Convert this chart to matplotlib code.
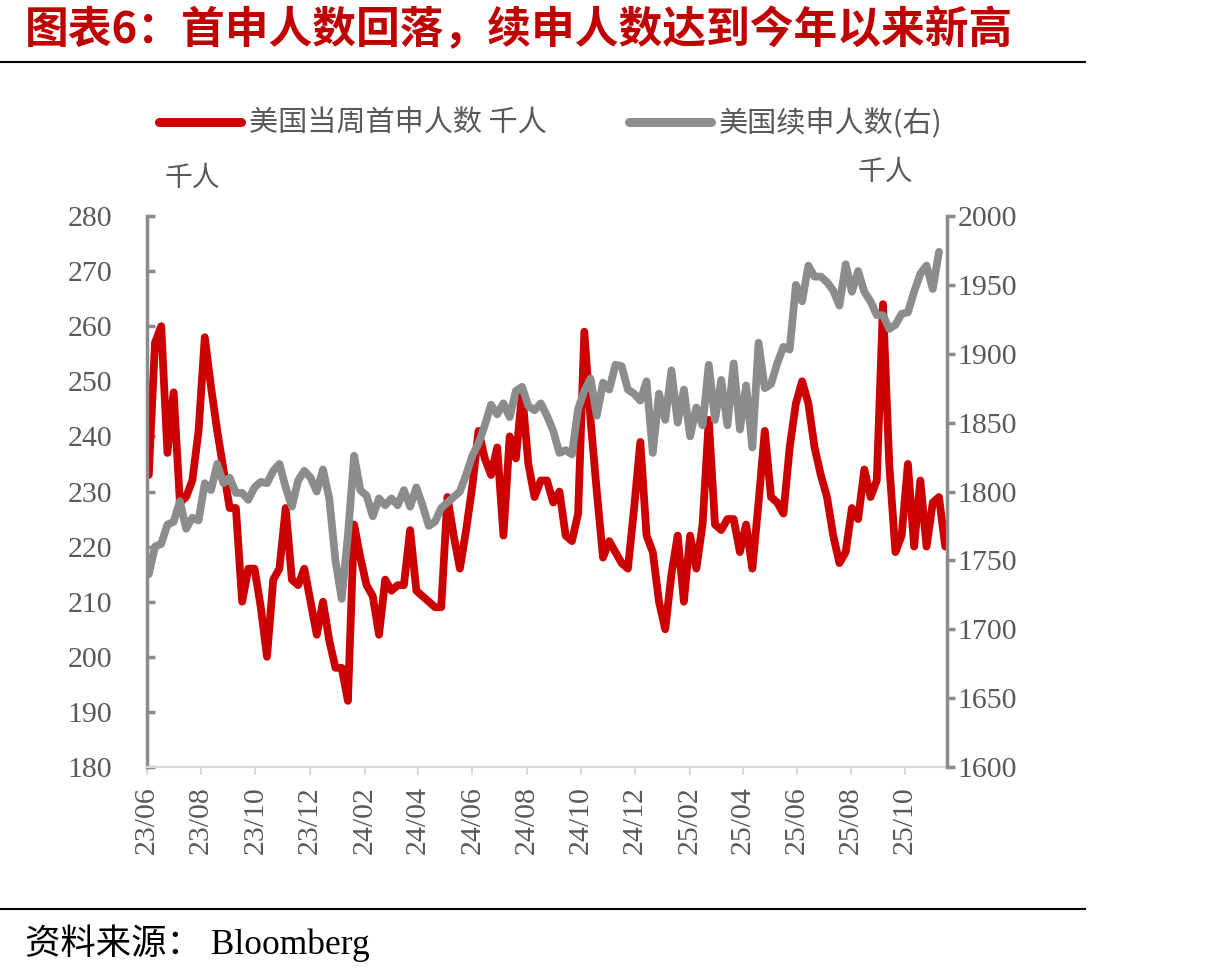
import matplotlib
matplotlib.use("Agg")
import matplotlib.pyplot as plt
import matplotlib.dates as mdates
from matplotlib.lines import Line2D
import pandas as pd

# ---------------- data (thousand persons) ----------------
initial_claims = [233, 257, 260, 237, 248, 228, 229, 232, 241, 258,
                  249, 241, 234, 227, 227, 210, 216, 216, 209, 200,
                  214, 216, 227, 214, 213, 216, 210, 204, 210, 203,
                  198, 198, 192, 224, 218, 213, 211, 204, 214, 212,
                  213, 213, 223, 212, 211, 210, 209, 209, 229, 222,
                  216, 223, 231, 241, 236, 233, 238, 222, 240, 236,
                  248, 235, 229, 232, 232, 228, 230, 222, 221, 226,
                  259, 243, 230, 218, 221, 219, 217, 216, 227, 239,
                  222, 219, 210, 205, 215, 222, 210, 222, 216, 224,
                  243, 224, 223, 225, 225, 219, 224, 216, 228, 241,
                  229, 228, 226, 238, 246, 250, 246, 238, 233, 229,
                  222, 217, 219, 227, 225, 234, 229, 232, 264, 235,
                  219, 222, 235, 220, 232, 220, 228, 229, 220]

continuing_claims = [1740, 1760, 1762, 1776, 1778, 1793, 1773, 1781, 1779, 1806,
                     1801, 1820, 1806, 1810, 1799, 1799, 1794, 1803, 1807, 1806,
                     1815, 1820, 1803, 1789, 1808, 1815, 1810, 1800, 1816, 1795,
                     1750, 1722, 1768, 1826, 1801, 1797, 1782, 1795, 1790, 1795,
                     1790, 1801, 1789, 1803, 1790, 1775, 1778, 1788, 1792, 1796,
                     1800, 1812, 1826, 1835, 1848, 1863, 1856, 1864, 1854, 1873,
                     1876, 1862, 1859, 1864, 1855, 1844, 1828, 1830, 1827, 1860,
                     1873, 1882, 1855, 1879, 1874, 1892, 1891, 1874, 1871, 1866,
                     1880, 1828, 1871, 1852, 1888, 1850, 1874, 1840, 1861, 1848,
                     1892, 1852, 1881, 1848, 1893, 1845, 1877, 1832, 1908, 1875,
                     1878, 1893, 1905, 1903, 1950, 1938, 1964, 1956, 1956, 1952,
                     1946, 1935, 1965, 1945, 1960, 1945, 1938, 1928, 1928, 1918,
                     1921, 1929, 1930, 1945, 1958, 1964, 1947, 1974]

start_date = "2023-06-03"
weeks_initial = pd.date_range(start_date, periods=len(initial_claims), freq="7D")
weeks_continuing = pd.date_range(start_date, periods=len(continuing_claims), freq="7D")

left_ticks = [180, 190, 200, 210, 220, 230, 240, 250, 260, 270, 280]
right_ticks = [1600, 1650, 1700, 1750, 1800, 1850, 1900, 1950, 2000]

title = "图表6：首申人数回落，续申人数达到今年以来新高"
label_initial = "美国当周首申人数 千人"
label_continuing = "美国续申人数(右)"
unit = "千人"
source = "资料来源： Bloomberg"

# ---------------- style ----------------
RED = "#CC0000"
GRAY = "#8C8C8C"
AXIS_GRAY = "#8C8C8C"
TEXT_GRAY = "#595959"
CJK = ["Noto Sans CJK SC", "DejaVu Sans"]
SERIF = ["Liberation Serif", "Noto Sans CJK SC"]

W, H = 1217, 974
fig = plt.figure(figsize=(W / 100, H / 100), dpi=100)

def fx(px):
    return px / W

def fy(py):
    return 1 - py / H

ax = fig.add_axes([fx(147), fy(767), fx(947) - fx(147), fy(216) - fy(767)])
ax2 = ax.twinx()

ax.plot(weeks_initial, initial_claims, color=RED, lw=5.6, solid_joinstyle="round",
        solid_capstyle="round", zorder=2)
ax2.plot(weeks_continuing, continuing_claims, color=GRAY, lw=5.6, solid_joinstyle="round",
         solid_capstyle="round", zorder=3)

ax.set_ylim(180, 280)
ax2.set_ylim(1600, 2000)
ax.set_yticks(left_ticks)
ax2.set_yticks(right_ticks)
ax.set_xlim(pd.Timestamp("2023-06-01"), pd.Timestamp("2025-11-17"))

ax.xaxis.set_major_locator(mdates.MonthLocator(bymonth=[2, 4, 6, 8, 10, 12]))
ax.xaxis.set_major_formatter(mdates.DateFormatter("%y/%m"))

for a in (ax, ax2):
    a.spines["top"].set_visible(False)
ax.spines["right"].set_visible(False)
ax2.spines["left"].set_visible(False)
ax2.spines["bottom"].set_visible(False)
ax.spines["left"].set_color(AXIS_GRAY)
ax.spines["left"].set_linewidth(2.5)
ax2.spines["right"].set_color(AXIS_GRAY)
ax2.spines["right"].set_linewidth(2.5)
ax.spines["bottom"].set_color("#D9D9D9")
ax.spines["bottom"].set_linewidth(1.5)

ax.tick_params(axis="y", direction="in", length=6, width=2.5, color=AXIS_GRAY,
               pad=25, labelsize=21.5, labelcolor=TEXT_GRAY)
ax2.tick_params(axis="y", direction="out", length=5.5, width=2.5, color=AXIS_GRAY,
                pad=2, labelsize=21.5, labelcolor=TEXT_GRAY)
ax.tick_params(axis="x", direction="out", length=6, width=1.5, color="#D9D9D9",
               pad=8, labelsize=21.5, labelcolor=TEXT_GRAY, labelrotation=90)
for lab in ax.get_yticklabels() + ax2.get_yticklabels() + ax.get_xticklabels():
    lab.set_fontfamily(SERIF)

# legend
handles = [Line2D([], [], color=RED, lw=6.5, solid_capstyle="round"),
           Line2D([], [], color=GRAY, lw=6.5, solid_capstyle="round")]
leg = fig.legend(handles, [label_initial, label_continuing], loc="center",
                 bbox_to_anchor=(fx(551), fy(124)), ncol=2, frameon=False,
                 handlelength=2.8, handletextpad=0.3, columnspacing=2.8,
                 prop={"family": CJK, "size": 21})
for t in leg.get_texts():
    t.set_color(TEXT_GRAY)

fig.text(fx(192), fy(178), unit, ha="center", va="center", fontsize=20,
         family=CJK, color=TEXT_GRAY)
fig.text(fx(885), fy(172), unit, ha="center", va="center", fontsize=20,
         family=CJK, color=TEXT_GRAY)

# title and source
fig.text(fx(25), fy(30), title, ha="left", va="center", fontsize=31.5,
         fontweight="bold", family=CJK, color="#C00000")
fig.add_artist(Line2D([0, fx(1085)], [fy(62), fy(62)], color="black", lw=1.5))
fig.add_artist(Line2D([0, fx(1085)], [fy(909), fy(909)], color="black", lw=1.5))
fig.text(fx(25), fy(943), source, ha="left", va="center", fontsize=25.5,
         family=SERIF, color="black")

fig.savefig("out.png", dpi=100)
